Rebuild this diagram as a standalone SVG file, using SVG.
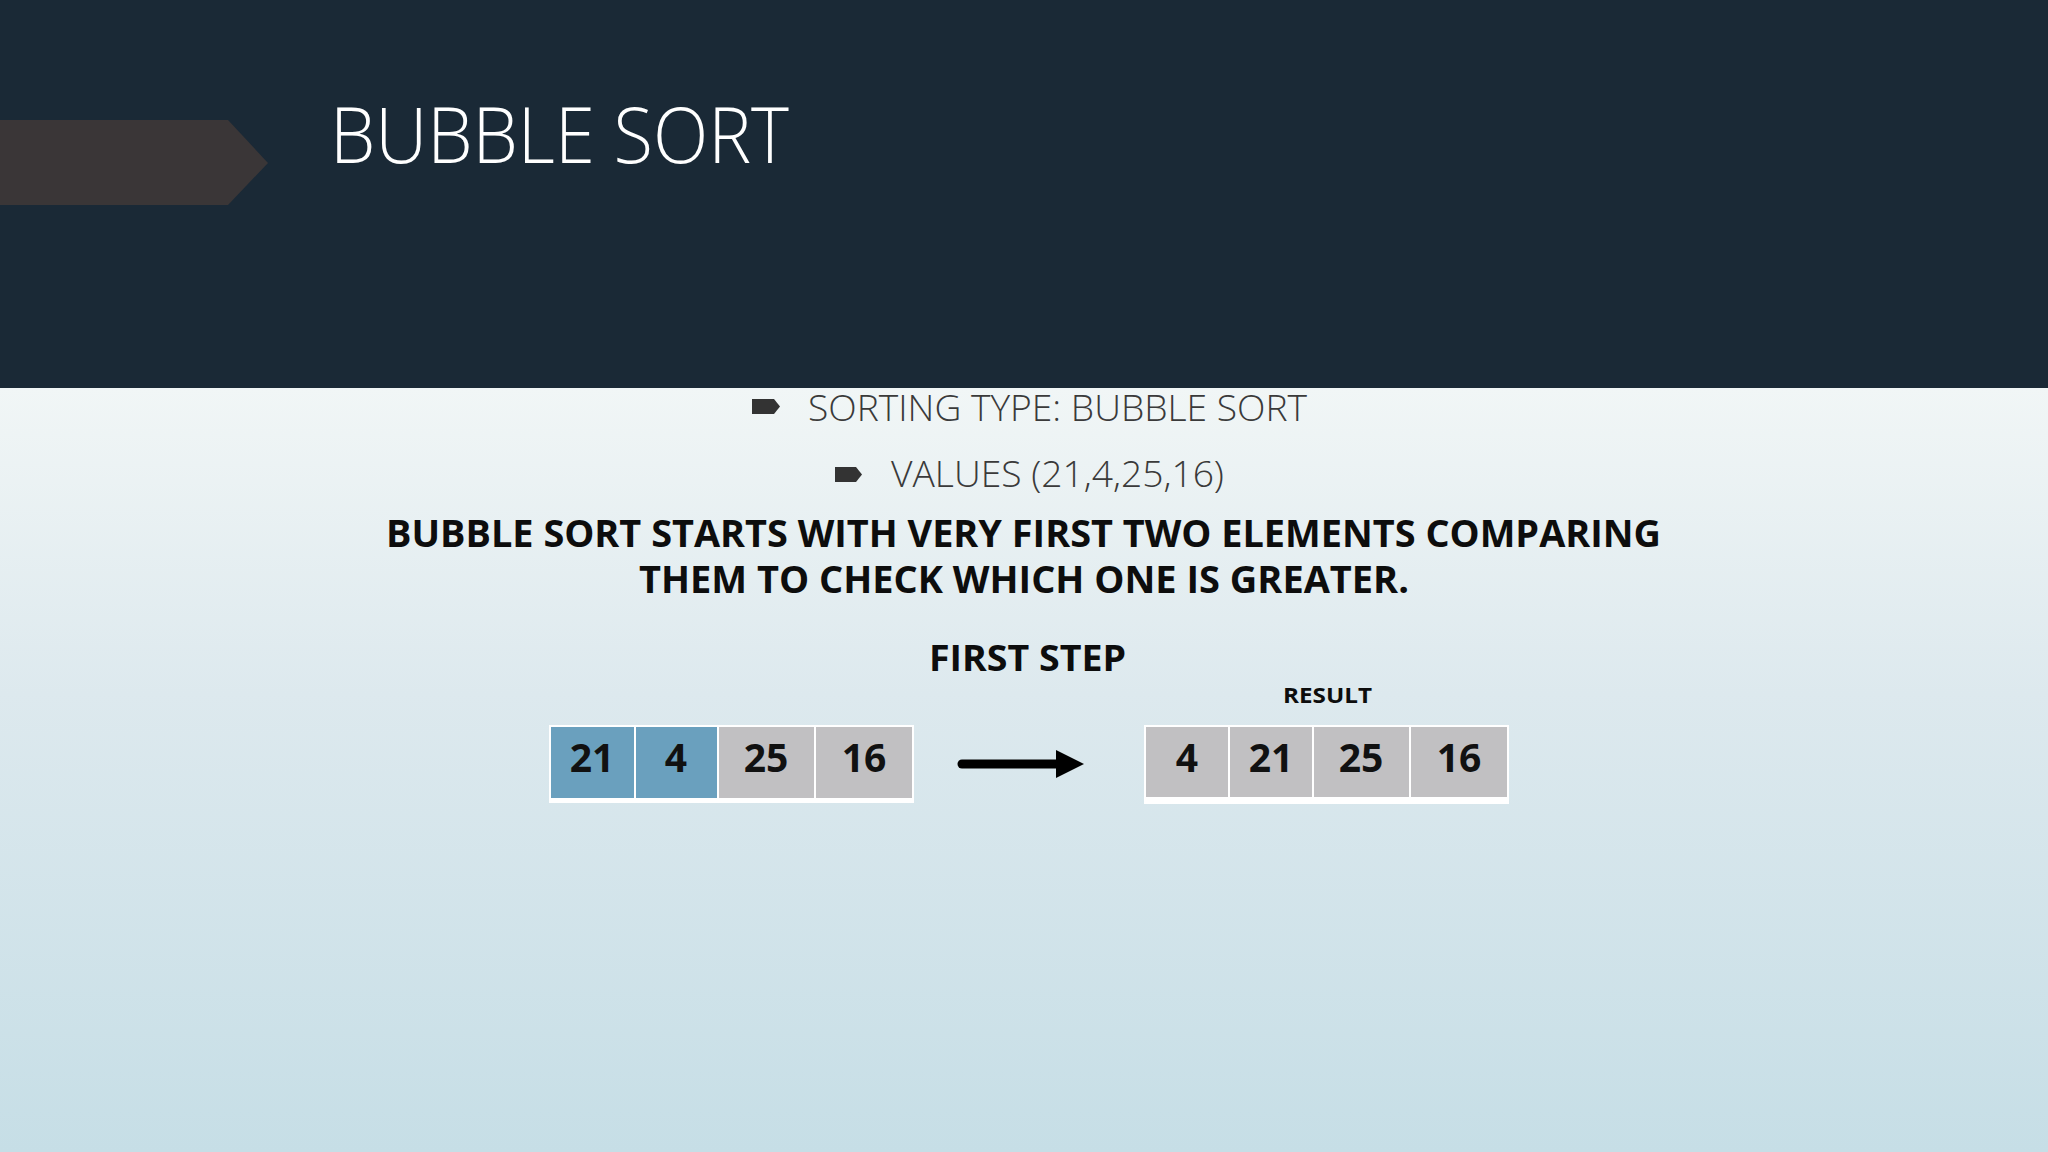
<svg xmlns="http://www.w3.org/2000/svg" width="2048" height="1152" viewBox="0 0 2048 1152">
  <defs>
    <linearGradient id="bg" x1="0" y1="0" x2="0" y2="1">
      <stop offset="0" stop-color="#f1f6f6"/>
      <stop offset="0.4" stop-color="#dde9ee"/>
      <stop offset="1" stop-color="#c6dee6"/>
    </linearGradient>
    <style>
      .light { font-family: "Open Sans", "Noto Sans", "Liberation Sans", sans-serif; font-weight: 300; }
      .bold { font-family: "Open Sans", "Noto Sans", "Liberation Sans", sans-serif; font-weight: 700; fill: #0d0d0d; }
      .num { font-family: "Open Sans", "Noto Sans", "Liberation Sans", sans-serif; font-weight: 700; font-size: 39px; fill: #111; text-anchor: middle; }
      .blue { fill: #6aa0be; }
      .gray { fill: #c1c0c2; }
      .frame { fill: #ffffff; }
      .bullet { fill: #333333; }
    </style>
  </defs>

  <rect x="0" y="388" width="2048" height="764" fill="url(#bg)"/>
  <rect x="0" y="0" width="2048" height="388" fill="#1a2936"/>

  <g id="chevron">
    <polygon points="0,120 228,120 268,163 228,205 0,205" fill="#3a3637"/>
  </g>

  <g id="title">
    <text class="light" x="330" y="163" font-size="77" fill="#ffffff" textLength="459" lengthAdjust="spacingAndGlyphs">BUBBLE SORT</text>
  </g>

  <g id="bullet-sorting-type">
    <path class="bullet" d="M752,399 H774 L780,406.5 L774,414 H752 Z"/>
    <text class="light" x="808" y="421" font-size="37" fill="#3a3a3a" textLength="499" lengthAdjust="spacingAndGlyphs">SORTING TYPE: BUBBLE SORT</text>
  </g>

  <g id="bullet-values">
    <path class="bullet" d="M835,467 H856 L862,474.5 L856,482 H835 Z"/>
    <text class="light" x="891" y="487" font-size="37" fill="#3a3a3a" textLength="333" lengthAdjust="spacingAndGlyphs">VALUES (21,4,25,16)</text>
  </g>

  <g id="description">
    <text class="bold" x="386" y="547" font-size="37" textLength="1275" lengthAdjust="spacingAndGlyphs">BUBBLE SORT STARTS WITH VERY FIRST TWO ELEMENTS COMPARING</text>
    <text class="bold" x="639" y="593" font-size="37" textLength="770" lengthAdjust="spacingAndGlyphs">THEM TO CHECK WHICH ONE IS GREATER.</text>
  </g>

  <g id="first-step-label">
    <text class="bold" x="929" y="671" font-size="36" textLength="197" lengthAdjust="spacingAndGlyphs">FIRST STEP</text>
  </g>

  <g id="result-label">
    <text class="bold" x="1283" y="703" font-size="22" textLength="89" lengthAdjust="spacingAndGlyphs">RESULT</text>
  </g>

  <g id="array-before">
    <rect class="frame" x="549" y="725" width="365" height="78"/>
    <rect class="blue" x="551" y="727" width="83" height="71"/>
    <rect class="blue" x="636" y="727" width="81" height="71"/>
    <rect class="gray" x="719" y="727" width="95" height="71"/>
    <rect class="gray" x="816" y="727" width="96" height="71"/>
    <text class="num" x="592" y="772">21</text>
    <text class="num" x="676" y="772">4</text>
    <text class="num" x="766" y="772">25</text>
    <text class="num" x="864" y="772">16</text>
  </g>

  <g id="array-after">
    <rect class="frame" x="1144" y="725" width="365" height="79"/>
    <rect class="gray" x="1146" y="727" width="82" height="70"/>
    <rect class="gray" x="1230" y="727" width="82" height="70"/>
    <rect class="gray" x="1314" y="727" width="95" height="70"/>
    <rect class="gray" x="1411" y="727" width="96" height="70"/>
    <text class="num" x="1187" y="772">4</text>
    <text class="num" x="1271" y="772">21</text>
    <text class="num" x="1361" y="772">25</text>
    <text class="num" x="1459" y="772">16</text>
  </g>

  <g id="connectors">
    <line x1="962" y1="764" x2="1058" y2="764" stroke="#000000" stroke-width="9" stroke-linecap="round"/>
    <polygon points="1056,750 1084,764 1056,778" fill="#000000"/>
  </g>
</svg>
